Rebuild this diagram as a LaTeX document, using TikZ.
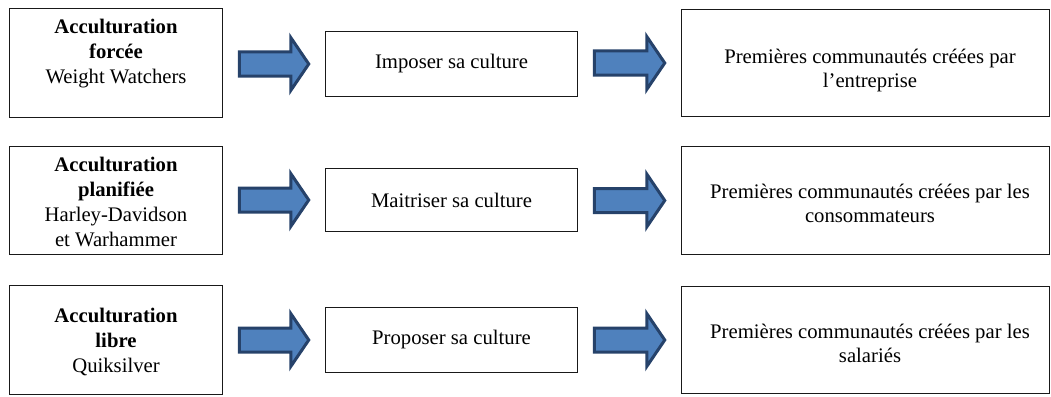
\documentclass[tikz,border=0pt]{standalone}
\usepackage{fontspec}
\setmainfont{Liberation Serif}
\usetikzlibrary{calc}
\definecolor{arrowfill}{HTML}{4F81BD}
\definecolor{arrowline}{HTML}{26426A}
\begin{document}
\begin{tikzpicture}[x=1pt, y=-1pt,
  frame/.style={draw=black!90, line width=1.5pt, inner sep=0pt},
  boxtext/.style={align=center, inner sep=0pt, anchor=north,
    font=\fontsize{20.7}{25}\selectfont},
  midtext/.style={font=\fontsize{20.7}{25}\selectfont},
  barrow/.style={draw=arrowline, fill=arrowfill, line width=3pt, line join=miter},
]
\useasboundingbox (0,0) rectangle (1051,396);

% block arrow between two boxes, centred on the height of the second box
\newcommand\blockarrow[2]{%
  \draw[barrow] let \p1=(#1.east), \p2=(#2.west) in
    (\x1+16pt,\y2-12pt) -- (\x2-34pt,\y2-12pt) -- (\x2-34pt,\y2-26.5pt)
    -- (\x2-16pt,\y2) -- (\x2-34pt,\y2+26.5pt) -- (\x2-34pt,\y2+12pt)
    -- (\x1+16pt,\y2+12pt) -- cycle;}

% left column: kind of acculturation
\node[frame, minimum width=213pt, minimum height=109pt] (L1) at (116,63) {};
\node[frame, minimum width=213pt, minimum height=108pt] (L2) at (116,200.5) {};
\node[frame, minimum width=213pt, minimum height=109pt] (L3) at (116,340) {};
\node[boxtext] (tL1) at (116,19) {\textbf{Acculturation}\\\textbf{forcée}\\Weight Watchers};
\node[boxtext] (tL2) at (116,157) {\textbf{Acculturation}\\\textbf{planifiée}\\Harley-Davidson\\et Warhammer};
\node[boxtext] (tL3) at (116,308) {\textbf{Acculturation}\\\textbf{libre}\\Quiksilver};

% middle column: attitude towards the culture
\node[frame, midtext, minimum width=252pt, minimum height=65pt] (M1) at (451.5,64) {Imposer sa culture};
\node[frame, midtext, minimum width=252pt, minimum height=63pt] (M2) at (451.5,200) {Maitriser sa culture};
\node[frame, midtext, minimum width=252pt, minimum height=65pt] (M3) at (451.5,340) {Proposer sa culture};

% right column: first communities
\node[frame, minimum width=368pt, minimum height=107pt] (R1) at (865.5,63) {};
\node[frame, minimum width=368pt, minimum height=108pt] (R2) at (865.5,200.5) {};
\node[frame, minimum width=368pt, minimum height=107pt] (R3) at (865.5,340) {};
\node[boxtext, font=\fontsize{20.7}{24}\selectfont] (tR1) at (870,49) {Premières communautés créées par\\l’entreprise};
\node[boxtext, font=\fontsize{20.7}{24}\selectfont] (tR2) at (870,184) {Premières communautés créées par les\\consommateurs};
\node[boxtext, font=\fontsize{20.7}{24}\selectfont] (tR3) at (870,324) {Premières communautés créées par les\\salariés};

% arrows
\blockarrow{L1}{M1}
\blockarrow{L2}{M2}
\blockarrow{L3}{M3}
\blockarrow{M1}{R1}
\blockarrow{M2}{R2}
\blockarrow{M3}{R3}
\end{tikzpicture}
\end{document}
